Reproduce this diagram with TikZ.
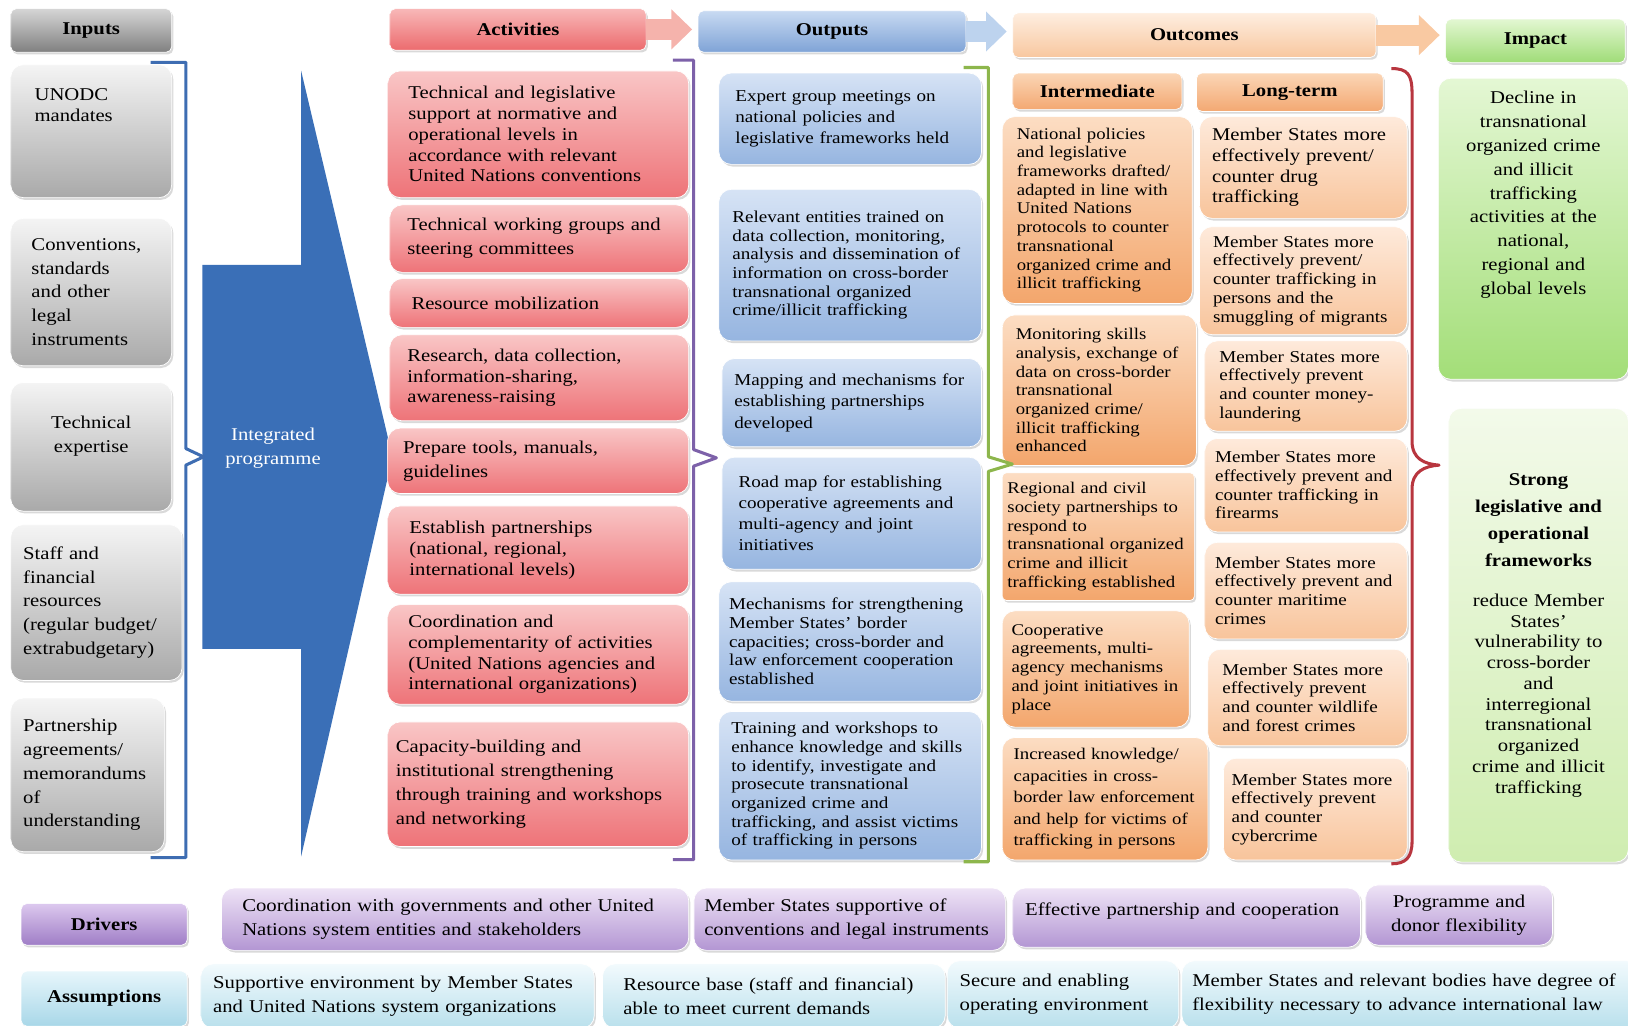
\documentclass[tikz,border=0pt]{standalone}
\usepackage{fontspec}
\setmainfont{Liberation Serif}[FakeStretch=1.15]
\usetikzlibrary{shadows}
\usetikzlibrary {arrows.meta}
\definecolor{inTop}{HTML}{F4F4F4}
\definecolor{inBot}{HTML}{A9A9A9}
\definecolor{inHeadTop}{HTML}{D6D6D6}
\definecolor{inHeadBot}{HTML}{808080}
\definecolor{actTop}{HTML}{F9C6C6}
\definecolor{actBot}{HTML}{EE7378}
\definecolor{actHeadTop}{HTML}{F8B8B8}
\definecolor{actHeadBot}{HTML}{EC6B6E}
\definecolor{outTop}{HTML}{D6E3F5}
\definecolor{outBot}{HTML}{96B5E0}
\definecolor{outHeadTop}{HTML}{C8DAF2}
\definecolor{outHeadBot}{HTML}{7FA3D6}
\definecolor{intTop}{HTML}{FCDDC3}
\definecolor{intBot}{HTML}{F3A66C}
\definecolor{ltTop}{HTML}{FEEADB}
\definecolor{ltBot}{HTML}{F8C49B}
\definecolor{subHeadTop}{HTML}{FBD6B6}
\definecolor{subHeadBot}{HTML}{F3A872}
\definecolor{ocmHeadTop}{HTML}{FEEEE0}
\definecolor{ocmHeadBot}{HTML}{F8C79F}
\definecolor{impTop}{HTML}{E4F7D4}
\definecolor{impBot}{HTML}{A3DE78}
\definecolor{impPaleTop}{HTML}{F3FAEA}
\definecolor{impPaleBot}{HTML}{CFEDB0}
\definecolor{impHeadTop}{HTML}{E3F7D2}
\definecolor{impHeadBot}{HTML}{9FDC77}
\definecolor{drvTop}{HTML}{EEE3F6}
\definecolor{drvBot}{HTML}{B396D3}
\definecolor{drvHeadTop}{HTML}{DCC8EE}
\definecolor{drvHeadBot}{HTML}{9F7DC6}
\definecolor{asmTop}{HTML}{F2FAFD}
\definecolor{asmBot}{HTML}{B9E0EC}
\definecolor{asmHeadTop}{HTML}{E7F6FB}
\definecolor{asmHeadBot}{HTML}{A8D7E8}
\definecolor{progBlue}{HTML}{3A6FB7}
\definecolor{braceBlue}{HTML}{3E6DB2}
\definecolor{bracePurple}{HTML}{7D61A9}
\definecolor{braceGreen}{HTML}{8DB64C}
\definecolor{braceRed}{HTML}{B8363F}
\definecolor{arrPink}{HTML}{F5B3AC}
\definecolor{arrBlue}{HTML}{BDD3EE}
\definecolor{arrPeach}{HTML}{F9C9A2}
\newcommand{\fbig}{\fontsize{13}{15}\selectfont}
\newcommand{\fwide}{\fontsize{13}{17.25}\selectfont}
\newcommand{\fsm}{\fontsize{12}{13.5}\selectfont}
\newcommand{\fmid}{\fontsize{12}{15.4}\selectfont}
\newcommand{\fint}{\fontsize{11.8}{13.5}\selectfont}
\tikzset{cell/.style={rounded corners=9pt,draw=white,line width=0.5pt,
anchor=north west,align=left,inner ysep=2pt,
drop shadow={opacity=0.3,shadow xshift=1.2pt,shadow yshift=-1.6pt}}}
\tikzset{wh/.style n args={3}{minimum width=#1*0.75pt,minimum height=#2*0.75pt,
inner xsep=#3*0.75pt,text width=#1*0.75pt-#3*1.5pt}}
\tikzset{hw/.style 2 args={minimum width=#1*0.75pt,minimum height=#2*0.75pt,inner sep=0pt}}
\tikzset{headcell/.style={cell,rounded corners=4pt,align=center,font=\fbig\bfseries}}
\tikzset{inbox/.style={cell,top color=inTop,bottom color=inBot,font=\fwide}}
\tikzset{actbox/.style={cell,top color=actTop,bottom color=actBot}}
\tikzset{outbox/.style={cell,top color=outTop,bottom color=outBot}}
\tikzset{intbox/.style={cell,top color=intTop,bottom color=intBot,font=\fint}}
\tikzset{ltbox/.style={cell,top color=ltTop,bottom color=ltBot}}
\tikzset{impbox/.style={cell,top color=impTop,bottom color=impBot}}
\tikzset{imppale/.style={cell,top color=impPaleTop,bottom color=impPaleBot}}
\tikzset{drvbox/.style={cell,top color=drvTop,bottom color=drvBot}}
\tikzset{asmbox/.style={cell,top color=asmTop,bottom color=asmBot}}
\tikzset{bracketline/.style={line width=2.2pt,line join=round}}
\tikzset{blockarrow/.style={line width=15pt,shorten >=4pt,-{Triangle[length=15pt,width=28pt]}}}

\begin{document}
\begin{tikzpicture}[x=0.75pt,y=-0.75pt]
\useasboundingbox (0,0) rectangle (1568,988);
\clip (0,0) rectangle (1568,988);

% integrated programme
\fill[progBlue] (290,68) -- (378,440) -- (290,825) -- (290,625) -- (195,625) -- (195,255) -- (290,255) -- cycle;
\node[text=white,font=\fwide,align=center] (prog) at (263,432) {Integrated\\programme};

% headers
\node[headcell,hw={155}{42},top color=inHeadTop,bottom color=inHeadBot] (inh) at (10,8) {Inputs};
\node[headcell,hw={247}{40},top color=actHeadTop,bottom color=actHeadBot] (acth) at (375,8) {Activities};
\node[headcell,hw={258}{40},top color=outHeadTop,bottom color=outHeadBot] (outh) at (672,10) {Outputs};
\node[headcell,hw={350}{43},top color=ocmHeadTop,bottom color=ocmHeadBot] (ocmh) at (975,12) {Outcomes};
\node[headcell,hw={173}{42},top color=impHeadTop,bottom color=impHeadBot] (imph) at (1392,18) {Impact};
\node[headcell,hw={163}{35},top color=subHeadTop,bottom color=subHeadBot] (inth) at (975,70) {Intermediate};
\node[headcell,hw={180}{37},top color=subHeadTop,bottom color=subHeadBot] (lth) at (1152,70) {Long-term};

\draw[blockarrow,draw=arrPink] (acth.east) -- (acth.east -| outh.west);
\draw[blockarrow,draw=arrBlue] (outh.east) -- (outh.east -| ocmh.west);
\draw[blockarrow,draw=arrPeach] (ocmh.east) -- (ocmh.east -| imph.west);

% inputs
\node[inbox,font=\fbig,wh={155}{128}{23},text depth=53pt] (in1) at (10,62) {UNODC\\mandates};
\node[inbox,wh={155}{142}{20}] (in2) at (10,210) {Conventions,\\standards\\and other\\legal\\instruments};
\node[inbox,align=center,wh={155}{124}{10},text depth=36pt] (in3) at (10,368) {Technical\\expertise};
\node[inbox,wh={165}{150}{12}] (in4) at (10,505) {Staff and\\financial\\resources\\(regular budget/\\extrabudgetary)};
\node[inbox,wh={148}{148}{12}] (in5) at (10,672) {Partnership\\agreements/\\memorandums\\of\\understanding};

% activities
\node[actbox,font=\fbig,wh={290}{122}{20}] (act1) at (373,68) {Technical and legislative\\support at normative and\\operational levels in\\accordance with relevant\\United Nations conventions};
\node[actbox,font=\fwide,wh={288}{65}{17}] (act2) at (375,197) {Technical working groups and\\steering committees};
\node[actbox,font=\fbig,wh={288}{47}{21}] (act3) at (375,268) {Resource mobilization};
\node[actbox,font=\fbig,wh={288}{83}{17}] (act4) at (375,322) {Research, data collection,\\information-sharing,\\awareness-raising};
\node[actbox,font=\fwide,wh={290}{63}{15}] (act5) at (373,412) {Prepare tools, manuals,\\guidelines};
\node[actbox,font=\fbig,wh={290}{85}{21}] (act6) at (373,487) {Establish partnerships\\(national, regional,\\international levels)};
\node[actbox,font=\fbig,wh={290}{96}{20}] (act7) at (373,582) {Coordination and\\complementarity of activities\\(United Nations agencies and\\international organizations)};
\node[actbox,font=\fwide,wh={290}{120}{8}] (act8) at (373,695) {Capacity-building and\\institutional strengthening\\through training and workshops\\and networking};

% outputs
\node[outbox,font=\fmid,wh={253}{88}{16}] (out1) at (692,70) {Expert group meetings on\\national policies and\\legislative frameworks held};
\node[outbox,font=\fsm,wh={253}{146}{13}] (out2) at (692,182) {Relevant entities trained on\\data collection, monitoring,\\analysis and dissemination of\\information on cross-border\\transnational organized\\crime/illicit trafficking};
\node[outbox,font=\fmid,wh={250}{85}{12}] (out3) at (695,345) {Mapping and mechanisms for\\establishing partnerships\\developed};
\node[outbox,font=\fmid,wh={250}{108}{16}] (out4) at (695,440) {Road map for establishing\\cooperative agreements and\\multi-agency and joint\\initiatives};
\node[outbox,font=\fsm,wh={253}{115}{10}] (out5) at (692,560) {Mechanisms for strengthening\\Member States’ border\\capacities; cross-border and\\law enforcement cooperation\\established};
\node[outbox,font=\fsm,wh={253}{143}{12}] (out6) at (692,685) {Training and workshops to\\enhance knowledge and skills\\to identify, investigate and\\prosecute transnational\\organized crime and\\trafficking, and assist victims\\of trafficking in persons};

% intermediate outcomes
\node[intbox,wh={183}{180}{14}] (int1) at (965,112) {National policies\\and legislative\\frameworks drafted/\\adapted in line with\\United Nations\\protocols to counter\\transnational\\organized crime and\\illicit trafficking};
\node[intbox,wh={187}{145}{13}] (int2) at (965,303) {Monitoring skills\\analysis, exchange of\\data on cross-border\\transnational\\organized crime/\\illicit trafficking\\enhanced};
\node[intbox,rounded corners=3pt,wh={185}{123}{5}] (int3) at (965,455) {Regional and civil\\society partnerships to\\respond to\\transnational organized\\crime and illicit\\trafficking established};
\node[intbox,wh={180}{112}{9}] (int4) at (965,588) {Cooperative\\agreements, multi-\\agency mechanisms\\and joint initiatives in\\place};
\node[intbox,font=\fontsize{11.8}{15.5}\selectfont,wh={198}{118}{11}] (int5) at (965,710) {Increased knowledge/\\capacities in cross-\\border law enforcement\\and help for victims of\\trafficking in persons};

% long-term outcomes
\node[ltbox,font=\fbig,wh={200}{98}{12}] (lt1) at (1155,112) {Member States more\\effectively prevent/\\counter drug\\trafficking};
\node[ltbox,font=\fsm,wh={200}{104}{13}] (lt2) at (1155,218) {Member States more\\effectively prevent/\\counter trafficking in\\persons and the\\smuggling of migrants};
\node[ltbox,font=\fsm,wh={195}{87}{14}] (lt3) at (1160,328) {Member States more\\effectively prevent\\and counter money-\\laundering};
\node[ltbox,font=\fsm,wh={195}{90}{10}] (lt4) at (1160,422) {Member States more\\effectively prevent and\\counter trafficking in\\firearms};
\node[ltbox,font=\fsm,wh={195}{93}{10}] (lt5) at (1160,522) {Member States more\\effectively prevent and\\counter maritime\\crimes};
\node[ltbox,font=\fsm,wh={192}{93}{14}] (lt6) at (1163,625) {Member States more\\effectively prevent\\and counter wildlife\\and forest crimes};
\node[ltbox,font=\fsm,wh={177}{98}{8}] (lt7) at (1178,730) {Member States more\\effectively prevent\\and counter\\cybercrime};

% impact
\node[impbox,align=center,font=\fwide,wh={183}{290}{6},text depth=190pt] (imp1) at (1385,75) {Decline in\\transnational\\organized crime\\and illicit\\trafficking\\activities at the\\national,\\regional and\\global levels};
\node[imppale,align=center,font=\fbig,wh={173}{437}{6}] (imp2) at (1395,393) {\textbf{Strong}\\[4.5pt]\textbf{legislative and}\\[4.5pt]\textbf{operational}\\[4.5pt]\textbf{frameworks}\\[14pt]reduce Member\\States’\\vulnerability to\\cross-border\\and\\interregional\\transnational\\organized\\crime and illicit\\trafficking};

% brackets
\draw[bracketline,draw=braceBlue] (145,60) -- (179,60) -- (179,432) -- (196,440) -- (179,448) -- (179,826) -- (145,826);
\draw[bracketline,draw=bracePurple] (648,58) -- (668,58) -- (668,433) -- (690,441) -- (668,449) -- (668,828) -- (648,828);
\draw[bracketline,draw=braceGreen] (928,65) -- (952,65) -- (952,440) -- (975,447) -- (952,454) -- (952,830) -- (928,830);
\draw[bracketline,draw=braceRed] (1340,66) .. controls (1356,66) and (1360,72) .. (1360,90) -- (1360,425) .. controls (1360,442) and (1372,447) .. (1386,448) .. controls (1372,449) and (1360,454) .. (1360,471) -- (1360,810) .. controls (1360,826) and (1354,832) .. (1340,832);

% drivers
\node[headcell,hw={160}{40},top color=drvHeadTop,bottom color=drvHeadBot] (drvh) at (20,870) {Drivers};
\node[drvbox,font=\fwide,wh={450}{60}{20}] (drv1) at (213,855) {Coordination with governments and other United\\Nations system entities and stakeholders};
\node[drvbox,font=\fwide,wh={300}{60}{10}] (drv2) at (668,855) {Member States supportive of\\conventions and legal instruments};
\node[drvbox,font=\fwide,wh={335}{57}{12},text depth=12pt] (drv3) at (975,855) {Effective partnership and cooperation};
\node[drvbox,font=\fwide,align=center,wh={180}{58}{6}] (drv4) at (1315,852) {Programme and\\donor flexibility};

% assumptions
\node[headcell,hw={160}{53},top color=asmHeadTop,bottom color=asmHeadBot] (asmh) at (20,935) {Assumptions};
\node[asmbox,font=\fwide,wh={379}{62}{12}] (asm1) at (193,928) {Supportive environment by Member States\\and United Nations system organizations};
\node[asmbox,font=\fwide,wh={330}{62}{20}] (asm2) at (580,928) {Resource base (staff and financial)\\able to meet current demands};
\node[asmbox,font=\fwide,wh={223}{65}{12}] (asm3) at (912,925) {Secure and enabling\\operating environment};
\node[asmbox,font=\fwide,wh={440}{65}{10}] (asm4) at (1138,925) {Member States and relevant bodies have degree of\\flexibility necessary to advance international law};
\end{tikzpicture}
\end{document}
